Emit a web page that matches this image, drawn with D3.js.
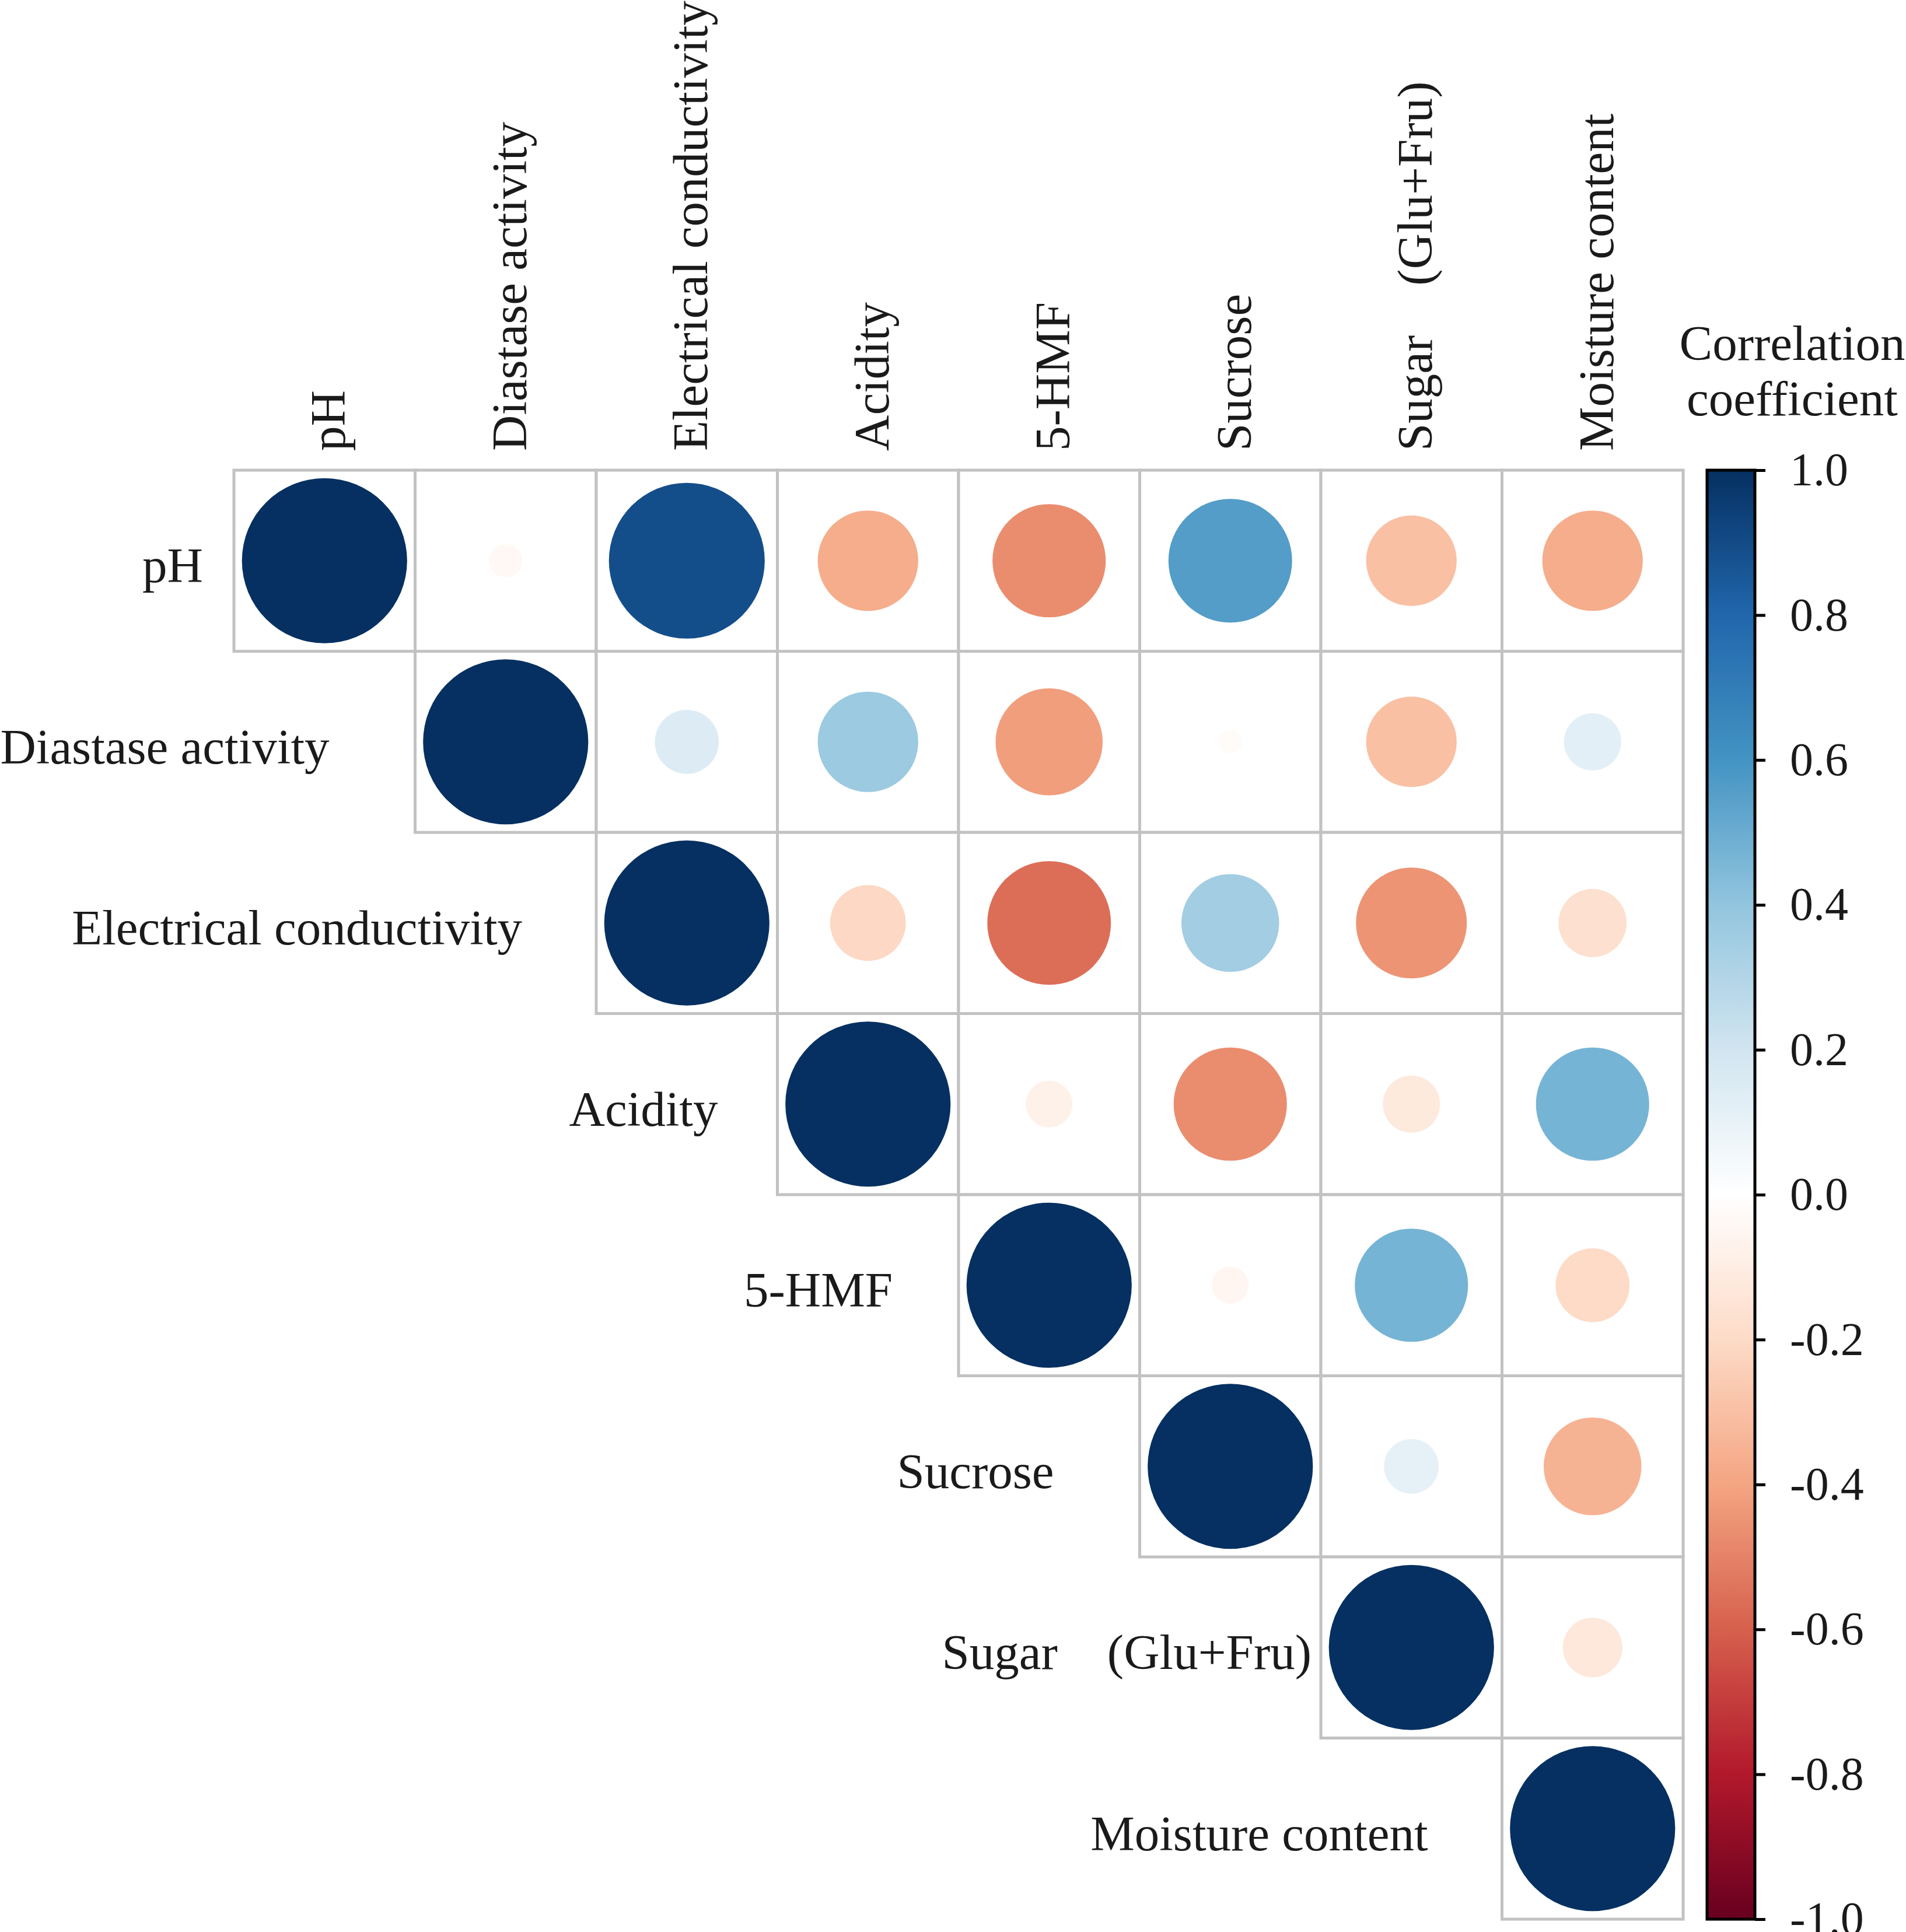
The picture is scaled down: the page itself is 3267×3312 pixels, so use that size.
<!DOCTYPE html>
<html>
<head>
<meta charset="utf-8">
<script src="https://cdn.jsdelivr.net/npm/d3@7"></script>
<style>
  html, body { margin: 0; padding: 0; background: #ffffff; }
  svg { display: block; }
  text { font-family: "Liberation Serif", "Times New Roman", serif; fill: #1a1a1a; }
</style>
</head>
<body>
<svg id="chart" width="3267" height="3312"></svg>
<script>
// ---------------- data ----------------
const variables = [
  "pH",
  "Diastase activity",
  "Electrical conductivity",
  "Acidity",
  "5-HMF",
  "Sucrose",
  "Sugar\u00A0\u00A0\u00A0\u00A0(Glu+Fru)",
  "Moisture content"
];

// upper-triangle rows, each starting at the diagonal
const rowPH        = [1.00, -0.04, 0.89, -0.37, -0.47, 0.56, -0.30, -0.37];
const rowDiastase  = [1.00, 0.15, 0.37, -0.42, -0.02, -0.30, 0.12];
const rowEC        = [1.00, -0.21, -0.56, 0.35, -0.45, -0.17];
const rowAcidity   = [1.00, -0.08, -0.47, -0.12, 0.47];
const rowHMF       = [1.00, -0.05, 0.47, -0.20];
const rowSucrose   = [1.00, 0.11, -0.35];
const rowSugar     = [1.00, -0.13];
const rowMoisture  = [1.00];

const legendTicks = [1.0, 0.8, 0.6, 0.4, 0.2, 0.0, -0.2, -0.4, -0.6, -0.8, -1.0];
const paletteColors = ["#67001F", "#B2182B", "#D6604D", "#F4A582", "#FDDBC7", "#FFFFFF",
                       "#D1E5F0", "#92C5DE", "#4393C3", "#2166AC", "#053061"];
const legendTitle = ["Correlation", "coefficient"];

// ---------------- layout ----------------
const rows = [rowPH, rowDiastase, rowEC, rowAcidity, rowHMF, rowSucrose, rowSugar, rowMoisture];
const rowLabelGap = [53, 147, 127, 102, 113, 147, 16, 127]; // gap between row label end and its diagonal cell

const gridLeft = 401, gridTop = 806, cell = 310.5;
const n = variables.length;
const fontSize = 85;

const svg = d3.select("#chart");
svg.append("rect").attr("width", 3267).attr("height", 3312).attr("fill", "#fff");

const x = d3.scaleBand().domain(d3.range(n)).range([gridLeft, gridLeft + n * cell]).padding(0);
const y = d3.scaleBand().domain(d3.range(n)).range([gridTop, gridTop + n * cell]).padding(0);

const color = d3.scaleLinear()
  .domain(d3.range(11).map(i => -1 + i * 0.2))
  .range(paletteColors)
  .interpolate(d3.interpolateRgb)
  .clamp(true);

const rScale = d3.scaleSqrt().domain([0, 1]).range([0, cell * 0.456]);

const cells = [];
rows.forEach((vals, i) => {
  vals.forEach((v, k) => {
    cells.push({ row: i, col: i + k, value: v });
  });
});

const g = svg.append("g");

// cell borders
g.selectAll("rect.cell").data(cells).join("rect")
  .attr("class", "cell")
  .attr("x", d => x(d.col))
  .attr("y", d => y(d.row))
  .attr("width", x.bandwidth())
  .attr("height", y.bandwidth())
  .attr("fill", "#fff")
  .attr("stroke", "#c2c2c2")
  .attr("stroke-width", 5);

// circles
g.selectAll("circle").data(cells).join("circle")
  .attr("cx", d => x(d.col) + x.bandwidth() / 2)
  .attr("cy", d => y(d.row) + y.bandwidth() / 2)
  .attr("r", d => rScale(Math.abs(d.value)))
  .attr("fill", d => color(d.value));

// column labels (rotated)
g.selectAll("text.collab").data(variables).join("text")
  .attr("class", "collab")
  .attr("transform", (d, i) => `translate(${x(i) + x.bandwidth() / 2 + 35},${gridTop - 33}) rotate(-90)`)
  .attr("text-anchor", "start")
  .attr("font-size", fontSize)
  .style("white-space", "pre")
  .text(d => d);

// row labels
g.selectAll("text.rowlab").data(variables).join("text")
  .attr("class", "rowlab")
  .attr("x", (d, i) => x(i) - rowLabelGap[i])
  .attr("y", (d, i) => y(i) + y.bandwidth() / 2 + 37)
  .attr("text-anchor", "end")
  .attr("font-size", fontSize)
  .style("white-space", "pre")
  .text(d => d);

// ---------------- legend ----------------
const barX = 2926, barW = 82;
const barTop = gridTop, barBottom = gridTop + n * cell;
const legendScale = d3.scaleLinear().domain([-1, 1]).range([barBottom, barTop]);

const defs = svg.append("defs");
const grad = defs.append("linearGradient")
  .attr("id", "corrGrad")
  .attr("x1", 0).attr("y1", 1).attr("x2", 0).attr("y2", 0);
grad.selectAll("stop").data(d3.range(0, 1.0001, 0.01)).join("stop")
  .attr("offset", d => d)
  .attr("stop-color", d => color(-1 + 2 * d));

svg.append("rect")
  .attr("x", barX).attr("y", barTop)
  .attr("width", barW).attr("height", barBottom - barTop)
  .attr("fill", "url(#corrGrad)")
  .attr("stroke", "#000")
  .attr("stroke-width", 5);

const axis = d3.axisRight(legendScale)
  .tickValues(legendTicks)
  .tickSize(18)
  .tickPadding(42)
  .tickFormat(d => d.toFixed(1));

const axG = svg.append("g")
  .attr("transform", `translate(${barX + barW},0)`)
  .call(axis);
axG.select(".domain").remove();
axG.selectAll(".tick line").attr("stroke", "#000").attr("stroke-width", 5);
axG.selectAll(".tick text")
  .attr("font-family", "Liberation Serif, Times New Roman, serif")
  .attr("font-size", 80)
  .attr("fill", "#1a1a1a");

svg.append("g").selectAll("text").data(legendTitle).join("text")
  .attr("x", 3072)
  .attr("y", (d, i) => 617 + i * 95)
  .attr("text-anchor", "middle")
  .attr("font-size", 85)
  .text(d => d);
</script>
</body>
</html>
